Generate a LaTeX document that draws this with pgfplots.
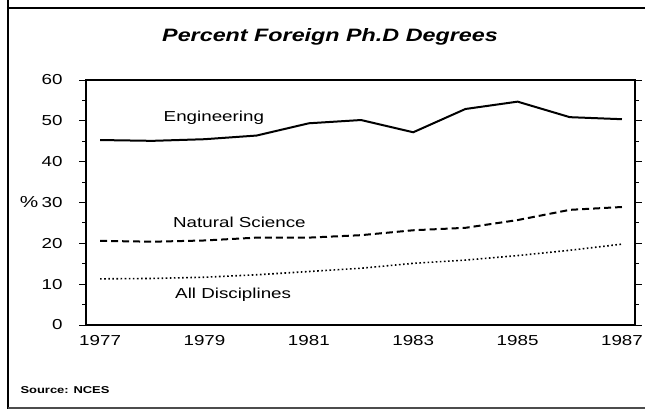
\documentclass[border=0pt]{standalone}
\usepackage{pgfplots}
\pgfplotsset{compat=1.18}
\usepackage{fontspec}
\setmainfont{Liberation Sans}[FakeStretch=1.3]
\begin{document}
\begin{tikzpicture}[x=1bp,y=1bp]
\useasboundingbox (0,0) rectangle (645,411);
% frame
\draw[line width=2.5bp] (8,411) -- (8,2);
\draw[line width=2.8bp] (6.75,403) -- (645,403);
\draw[line width=1.5bp,black!70] (8,3) -- (645,3);
\node[font=\fontsize{18}{20}\selectfont\bfseries\itshape, anchor=base] at (330,370) {Percent Foreign Ph.D Degrees};
\node[font=\fontsize{10}{12}\selectfont\bfseries, anchor=base west] at (17,18) {Source: NCES};
\begin{axis}[
  at={(86bp,86bp)}, anchor=south west,
  scale only axis, width=549bp, height=245bp,
  xmin=1976.73, xmax=1987.25, ymin=0, ymax=60,
  axis line style={line width=1.3bp},
  xtick={1977,1979,1981,1983,1985,1987},
  xticklabels={1977,1979,1981,1983,1985,1987},
  x tick style={draw=none},
  ytick={0,10,20,30,40,50,60},
  minor ytick={5,15,25,35,45,55},
  y tick style={line width=1bp,black},
  tick align=outside,
  major tick length=7bp, minor tick length=4bp,
  ytick pos=both,
  xtick pos=bottom,
  /pgf/number format/assume math mode=true,
  ticklabel style={font=\fontsize{14.5}{16}\selectfont},
  yticklabel style={xshift=-13bp},
  clip=false,
]
\addplot[black, line width=2bp] coordinates {
(1977,45.3) (1978,45.1) (1979,45.5) (1980,46.4) (1981,49.4) (1982,50.2)
(1983,47.2) (1984,52.9) (1985,54.7) (1986,50.9) (1987,50.4)};
\addplot[black, line width=2bp, dash pattern=on 7bp off 4bp] coordinates {
(1977,20.6) (1978,20.4) (1979,20.7) (1980,21.4) (1981,21.4) (1982,22.0)
(1983,23.2) (1984,23.8) (1985,25.7) (1986,28.2) (1987,28.9)};
\addplot[black, line width=1.6bp, dash pattern=on 1.6bp off 2.5bp] coordinates {
(1977,11.3) (1978,11.4) (1979,11.7) (1980,12.3) (1981,13.1) (1982,13.9)
(1983,15.1) (1984,15.9) (1985,17.0) (1986,18.3) (1987,19.8)};
\node[font=\fontsize{14.5}{17}\selectfont] at (axis cs:1979.18,50.7) {Engineering};
\node[font=\fontsize{14.5}{17}\selectfont] at (axis cs:1979.67,25.2) {Natural Science};
\node[font=\fontsize{14.5}{17}\selectfont] at (axis cs:1979.55,7.5) {All Disciplines};
\end{axis}
\node[font=\fontsize{16}{18}\selectfont] at (29,209) {\%};
\end{tikzpicture}
\end{document}
